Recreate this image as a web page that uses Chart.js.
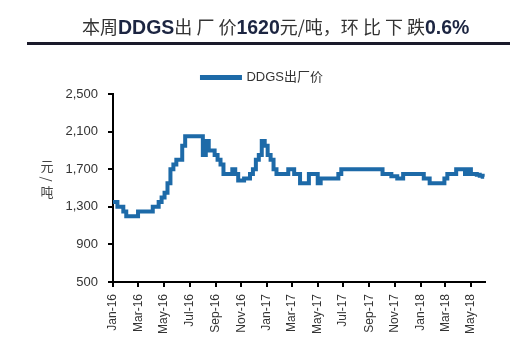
<!DOCTYPE html>
<html>
<head>
<meta charset="utf-8">
<script src="https://cdn.jsdelivr.net/npm/chart.js@4/dist/chart.umd.min.js"></script>
<style>
  body{margin:0;background:#fff;}
  #wrap{position:relative;width:520px;height:353px;}
  #title{position:absolute;left:82px;top:13px;white-space:nowrap;font-family:"Noto Sans CJK SC",sans-serif;font-size:18px;line-height:26px;color:#333;}
  #title b{font-family:"Liberation Sans",Arial,sans-serif;font-size:19.5px;color:#1c2541;}
  #rule{position:absolute;left:27px;top:42px;width:483px;height:2.5px;background:#1a1a2a;}
</style>
</head>
<body>
<div id="wrap">
  <div id="title">本周<b>DDGS</b>出 厂 价<b>1620</b>元/吨，环 比 下 跌<b>0.6%</b></div>
  <div id="rule"></div>
  <canvas id="c" width="520" height="353"></canvas>
</div>
<script>
// ================= DATA =================
const seriesName = "DDGS出厂价";
const yUnit = ["元", "/", "吨"];
const firstWeek = [2016, 0, 1];   // weekly prices from first week of Jan-16
const prices = [
  1350,1350,1300,1300,
  1250,1200,1200,1200,1200,
  1250,1250,1250,1250,1250,
  1300,1300,
  1350,1400,1450,
  1550,1700,1750,1800,1800,
  1950,2050,2050,2050,2050,2050,2050,
  1850,2000,1900,1900,1850,1800,1750,
  1650,1650,1650,1700,1650,
  1580,1580,1600,1600,
  1650,1700,1800,1850,2000,1950,1850,
  1800,1700,1650,1650,1650,1650,
  1700,1700,1650,1650,
  1550,1550,1550,
  1650,1650,1650,
  1550,1600,1600,1600,1600,1600,1600,
  1650,
  1700,1700,1700,1700,1700,1700,1700,1700,1700,1700,1700,1700,1700,1700,
  1650,1650,1650,
  1625,1625,
  1600,1600,
  1650,1650,1650,1650,1650,1650,1650,
  1600,1600,
  1550,1550,1550,1550,1550,
  1600,
  1650,1650,1650,
  1700,1700,1700,
  1650,
  1700,
  1650,1650,1640,1630,1620
];
const tickLabels = ["Jan-16","Mar-16","May-16","Jul-16","Sep-16","Nov-16","Jan-17","Mar-17","May-17","Jul-17","Sep-17","Nov-17","Jan-18","Mar-18","May-18"];
const yTicks = [500,900,1300,1700,2100,2500];

// ================= HELPERS =================
const MONTHS = ["Jan","Feb","Mar","Apr","May","Jun","Jul","Aug","Sep","Oct","Nov","Dec"];
const day0 = Date.UTC(firstWeek[0], firstWeek[1], firstWeek[2]);
function dayOf(label){
  const m = MONTHS.indexOf(label.slice(0,3));
  const y = 2000 + parseInt(label.slice(4));
  return (Date.UTC(y, m, 1) - day0) / 864e5;
}
const points = prices.map((v,i) => ({x: i*7, y: v}));
const tickDays = tickLabels.map(dayOf);

// vertical unit label, characters stacked top to bottom
const yTitle = {
  id: "yTitle",
  afterDraw(chart){
    const ctx = chart.ctx;
    ctx.save();
    ctx.font = '13px "Noto Sans CJK SC"';
    ctx.fillStyle = "#444";
    ctx.textAlign = "center";
    ctx.textBaseline = "middle";
    ctx.fillText(yUnit[0], 47, 166);
    ctx.fillText(yUnit[2], 47, 192);
    ctx.translate(47, 179);
    ctx.rotate(Math.PI/2);
    ctx.fillText(yUnit[1], 0, 0);
    ctx.restore();
  }
};

// ================= CHART =================
new Chart(document.getElementById("c"), {
  type: "line",
  data: {
    datasets: [{
      label: seriesName,
      data: points,
      borderColor: "#1d6aa8",
      backgroundColor: "#1d6aa8",
      borderWidth: 4,
      pointRadius: 0,
      stepped: "middle",
      tension: 0
    }]
  },
  options: {
    responsive: false,
    animation: false,
    layout: {padding: {top: 57, left: 40, right: 35, bottom: 0}},
    plugins: {
      legend: {
        position: "top",
        labels: {
          boxWidth: 38, boxHeight: 1, padding: 14,
          color: "#333",
          font: {family: '"Liberation Sans", "Noto Sans CJK SC"', size: 13}
        }
      },
      tooltip: {enabled: false}
    },
    scales: {
      x: {
        type: "linear",
        min: 0, max: 884,
        afterFit: s => { s.height = 71; },
        afterBuildTicks: s => { s.ticks = tickDays.map(v => ({value: v})); },
        border: {color: "#000", width: 2},
        grid: {drawOnChartArea: false, drawTicks: true, tickLength: 5, color: "#000", lineWidth: 2},
        ticks: {
          autoSkip: false, maxRotation: 90, minRotation: 90, padding: 7,
          color: "#333",
          font: {family: '"Liberation Sans", Arial', size: 12},
          callback: (v) => tickLabels[tickDays.indexOf(v)]
        }
      },
      y: {
        min: 500, max: 2500,
        afterFit: s => { s.width = 73; },
        afterBuildTicks: s => { s.ticks = yTicks.map(v => ({value: v})); },
        border: {color: "#000", width: 2},
        grid: {drawOnChartArea: false, drawTicks: true, tickLength: 5, color: "#000", lineWidth: 2},
        ticks: {
          padding: 10,
          color: "#333",
          font: {family: '"Liberation Sans", Arial', size: 13},
          callback: v => v.toLocaleString("en-US")
        }
      }
    }
  },
  plugins: [yTitle]
});
</script>
</body>
</html>
